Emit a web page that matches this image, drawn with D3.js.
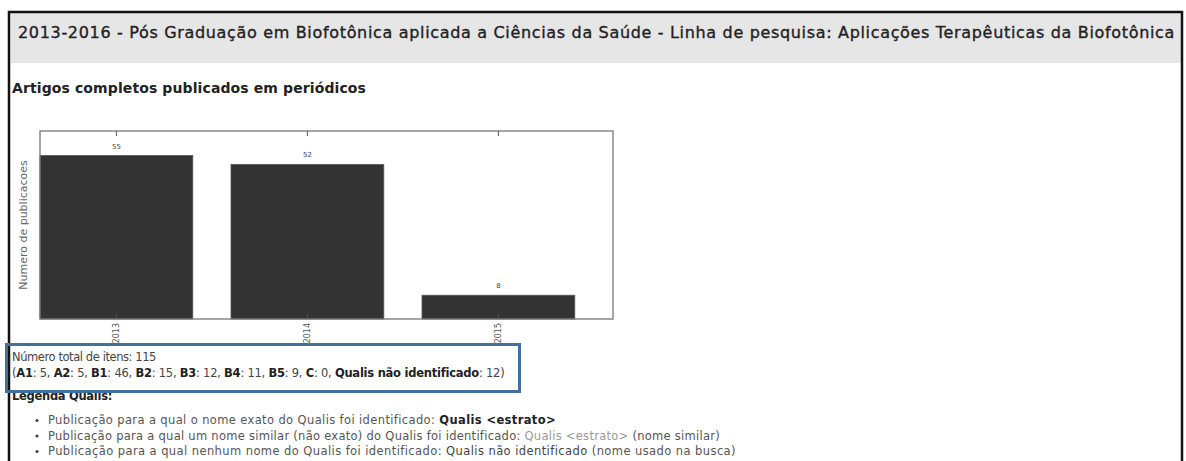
<!DOCTYPE html>
<html>
<head>
<meta charset="utf-8">
<script src="https://cdn.jsdelivr.net/npm/d3@7"></script>
<style>
  body { margin: 0; background: #fff; }
  text { font-family: "DejaVu Sans", sans-serif; }
</style>
</head>
<body>
<div class="page"></div>
<script>
var pageTitle = "2013-2016 - Pós Graduação em Biofotônica aplicada a Ciências da Saúde - Linha de pesquisa: Aplicações Terapêuticas da Biofotônica",
sectionTitle = "Artigos completos publicados em periódicos",
years = ["2013", "2014", "2015"],
counts = [55, 52, 8],
yLabel = "Numero de publicacoes",
qualisKeys = ["A1", "A2", "B1", "B2", "B3", "B4", "B5", "C", "Qualis não identificado"],
qualisCounts = [5, 5, 46, 15, 12, 11, 9, 0, 12]

var legendLines = [
  [["Publicação para a qual o nome exato do Qualis foi identificado: ", "n"], ["Qualis <estrato>", "b"]],
  [["Publicação para a qual um nome similar (não exato) do Qualis foi identificado: ", "n"], ["Qualis <estrato>", "l"], [" (nome similar)", "n"]],
  [["Publicação para a qual nenhum nome do Qualis foi identificado: ", "n"], ["Qualis não identificado", "m"], [" (nome usado na busca)", "n"]]
]

var width = 1186, height = 461
var svg = d3.select(".page").append("svg")
  .attr("width", width)
  .attr("height", height)

// spread letters so a line spans the same width as in the picture
function fit(sel, w) {
  var len = sel.node().getComputedTextLength()
  var n = sel.text().length
  sel.attr("letter-spacing", (w - len) / n)
}

// page frame + header band
svg.append("rect")
  .attr("x", 11).attr("y", 13)
  .attr("width", 1170).attr("height", 50)
  .attr("fill", "#e6e6e6")
svg.append("path")
  .attr("d", "M9,461V12H1182V461")
  .attr("fill", "none")
  .attr("stroke", "#111")
  .attr("stroke-width", 2.5)

var t = svg.append("text")
  .attr("x", 18).attr("y", 38)
  .attr("font-size", "16px")
  .attr("fill", "#222")
  .attr("stroke", "#222")
  .attr("stroke-width", 0.35)
  .text(pageTitle)
fit(t, 1157)

var s = svg.append("text")
  .attr("x", 12).attr("y", 93)
  .attr("font-size", "14px")
  .attr("font-weight", "bold")
  .attr("fill", "#222")
  .text(sectionTitle)
fit(s, 354)

// bar chart
var plot = {left: 40, right: 613, top: 131, bottom: 319}

var x = d3.scaleBand()
  .domain(years)
  .range([plot.left, plot.right])
  .paddingInner(0.2)
  .paddingOuter(0.1)
  .align(0)

var y = d3.scaleLinear()
  .domain([0, d3.max(counts) * 1.15])
  .range([plot.bottom, plot.top])

var bars = svg.append("g").attr("class", "bars")
bars.selectAll("rect")
  .data(counts)
  .enter()
  .append("rect")
  .attr("x", function(d, i) { return x(years[i]); })
  .attr("width", x.bandwidth())
  .attr("y", function(d) { return y(d); })
  .attr("height", function(d) { return y(0) - y(d); })
  .attr("fill", "#333")
  .attr("stroke", "#555")
  .attr("stroke-width", 0.8)

bars.selectAll(".val")
  .data(counts)
  .enter()
  .append("text")
  .attr("class", "val")
  .attr("x", function(d, i) { return x(years[i]) + x.bandwidth() / 2; })
  .attr("y", function(d) { return y(d) - 7; })
  .attr("text-anchor", "middle")
  .attr("font-size", "7px")
  .attr("fill", "#444")
  .text(function(d) { return d; })

svg.append("rect")
  .attr("x", plot.left).attr("y", plot.top)
  .attr("width", plot.right - plot.left)
  .attr("height", plot.bottom - plot.top)
  .attr("fill", "none")
  .attr("stroke", "#777")
  .attr("stroke-width", 1.3)

var ticks = svg.append("g").attr("class", "ticks")
ticks.selectAll(".tick")
  .data(years)
  .enter()
  .append("path")
  .attr("d", function(d) {
    var cx = x(d) + x.bandwidth() / 2
    return "M" + cx + "," + plot.top + "v5M" + cx + "," + plot.bottom + "v-5"
  })
  .attr("stroke", "#555")
  .attr("stroke-width", 1)

ticks.selectAll(".lbl")
  .data(years)
  .enter()
  .append("text")
  .attr("class", "lbl")
  .attr("transform", function(d) { return "translate(" + (x(d) + x.bandwidth() / 2 + 3) + "," + (plot.bottom + 4) + ") rotate(-90)"; })
  .attr("text-anchor", "end")
  .attr("font-size", "8px")
  .attr("fill", "#555")
  .text(function(d) { return d; })

svg.append("text")
  .attr("transform", "translate(27," + (plot.top + plot.bottom) / 2 + ") rotate(-90)")
  .attr("text-anchor", "middle")
  .attr("font-size", "11px")
  .attr("fill", "#666")
  .text(yLabel)

// totals
var total = d3.sum(counts)
var l1 = svg.append("text")
  .attr("x", 12).attr("y", 361)
  .attr("font-size", "11.5px")
  .attr("fill", "#444")
  .text("Número total de itens: " + total)
fit(l1, 144)

var l2 = svg.append("text")
  .attr("x", 12).attr("y", 377)
  .attr("font-size", "11.5px")
  .attr("fill", "#444")
l2.append("tspan").text("(")
qualisKeys.forEach(function(k, i) {
  l2.append("tspan").attr("font-weight", "bold").attr("fill", "#222").text(k)
  l2.append("tspan").text(": " + qualisCounts[i] + (i < qualisKeys.length - 1 ? ", " : ")"))
})
fit(l2, 492)

var lg = svg.append("text")
  .attr("x", 12).attr("y", 400)
  .attr("font-size", "11.5px")
  .attr("font-weight", "bold")
  .attr("fill", "#222")
  .text("Legenda Qualis:")
fit(lg, 100)

var fills = {n: "#555", b: "#222", l: "#999", m: "#444"}
legendLines.forEach(function(parts, i) {
  var yy = 424 + i * 15.5
  svg.append("circle")
    .attr("cx", 37).attr("cy", yy - 3.5).attr("r", 1.6)
    .attr("fill", "#444")
  var tx = svg.append("text")
    .attr("x", 48).attr("y", yy)
    .attr("font-size", "11.5px")
    .attr("fill", "#555")
  parts.forEach(function(p) {
    tx.append("tspan")
      .attr("font-weight", p[1] == "b" ? "bold" : null)
      .attr("fill", fills[p[1]])
      .text(p[0])
  })
  fit(tx, [508, 672, 688][i])
})

// highlight box drawn over the text
svg.append("rect")
  .attr("x", 6.5).attr("y", 344.5)
  .attr("width", 513).attr("height", 47)
  .attr("fill", "none")
  .attr("stroke", "#41709c")
  .attr("stroke-width", 3)
</script>
</body>
</html>
